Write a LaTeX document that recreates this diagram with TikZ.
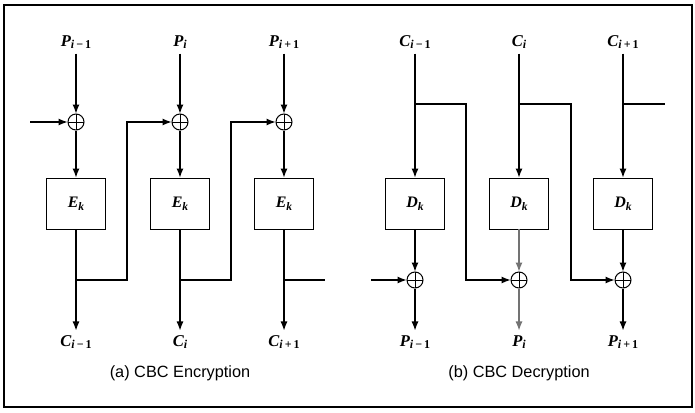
\documentclass[tikz,border=0pt]{standalone}
\usepackage{fontspec}
\setmainfont{Liberation Serif}
\newfontfamily\capfont{Liberation Sans}
\usetikzlibrary{arrows.meta}
\newcommand\lab[2]{{\fontsize{16.5}{16.5}\selectfont\bfseries\itshape #1}\raisebox{-2.5pt}{\fontsize{12}{12}\selectfont\bfseries #2}}
\newcommand\blab[2]{{\fontsize{16}{16}\selectfont\bfseries\itshape #1}\raisebox{-3pt}{\fontsize{11.5}{11.5}\selectfont\bfseries\itshape #2}}
\newcommand\mi{{\itshape i}\,−\,1}
\newcommand\pl{{\itshape i}\,+\,1}
\newcommand\ii{{\itshape i}}
\begin{document}
\begin{tikzpicture}[x=1pt,y=-1pt,line width=1.1pt,
  >={Latex[length=9pt,width=7pt]},
  lbl/.style={inner sep=0pt,minimum height=22pt},
  blk/.style={draw,line width=0.9pt,minimum width=59pt,minimum height=51pt,inner sep=0pt},
  xor/.style={circle,draw,line width=1pt,minimum size=16pt,inner sep=0pt,
    path picture={\draw[line width=1pt] (path picture bounding box.north) -- (path picture bounding box.south)
      (path picture bounding box.west) -- (path picture bounding box.east);}},
  captxt/.style={font=\capfont\fontsize{16.3}{17}\selectfont}]
\useasboundingbox (0,0) rectangle (695,412);
\draw[line width=1.4pt] (4,5) rectangle (692,407);

% ---------- Encryption ----------
\node[lbl] (p1) at (76,42) {\lab{P}{\mi}};
\node[lbl] (p2) at (180,42) {\lab{P}{\ii}};
\node[lbl] (p3) at (284,42) {\lab{P}{\pl}};
\node[xor] (x1) at (76,122) {};
\node[xor] (x2) at (180,122) {};
\node[xor] (x3) at (284,122) {};
\node[blk] (e1) at (76,203.5) {\blab{E}{k}};
\node[blk] (e2) at (180,203.5) {\blab{E}{k}};
\node[blk] (e3) at (284,203.5) {\blab{E}{k}};
\node[lbl] (c1) at (76,342) {\lab{C}{\mi}};
\node[lbl] (c2) at (180,342) {\lab{C}{\ii}};
\node[lbl] (c3) at (284,342) {\lab{C}{\pl}};
\coordinate (iv1) at (30,122);
\coordinate (j1) at (76,280);
\coordinate (j2) at (180,280);
\coordinate (j3) at (284,280);
\coordinate (f1) at (127,280);
\coordinate (f2) at (231,280);
\coordinate (o3) at (325,280);
\foreach \k in {1,2,3}{
  \draw[->] (p\k) -- (x\k);
  \draw[->] (x\k) -- (e\k);
  \draw[->] (e\k) -- (c\k);
}
\draw[->] (iv1) -- (x1);
\draw[->] (j1) -- (f1) |- (x2);
\draw[->] (j2) -- (f2) |- (x3);
\draw (j3) -- (o3);
\node[captxt] (capa) at (180,373) {(a) CBC Encryption};

% ---------- Decryption ----------
\node[lbl] (q1) at (415,42) {\lab{C}{\mi}};
\node[lbl] (q2) at (519,42) {\lab{C}{\ii}};
\node[lbl] (q3) at (623,42) {\lab{C}{\pl}};
\node[blk] (d1) at (415,203.5) {\blab{D}{k}};
\node[blk] (d2) at (519,203.5) {\blab{D}{k}};
\node[blk] (d3) at (623,203.5) {\blab{D}{k}};
\node[xor] (y1) at (415,280) {};
\node[xor] (y2) at (519,280) {};
\node[xor] (y3) at (623,280) {};
\node[lbl] (r1) at (415,342) {\lab{P}{\mi}};
\node[lbl] (r2) at (519,342) {\lab{P}{\ii}};
\node[lbl] (r3) at (623,342) {\lab{P}{\pl}};
\coordinate (k1) at (415,104);
\coordinate (k2) at (519,104);
\coordinate (k3) at (623,104);
\coordinate (g1) at (466,104);
\coordinate (g2) at (571,104);
\coordinate (g3) at (665,104);
\coordinate (iv2) at (371,280);
\foreach \k in {1,2,3}{
  \draw[->] (q\k) -- (d\k);
}
\draw[->] (d1) -- (y1);
\draw[->] (y1) -- (r1);
\draw[->,black!55] (d2) -- (y2);
\draw[->,black!55] (y2) -- (r2);
\draw[->] (d3) -- (y3);
\draw[->] (y3) -- (r3);
\draw[->] (iv2) -- (y1);
\draw[->] (k1) -- (g1) |- (y2);
\draw[->] (k2) -- (g2) |- (y3);
\draw (k3) -- (g3);
\node[captxt] (capb) at (519,373) {(b) CBC Decryption};
\end{tikzpicture}
\end{document}
